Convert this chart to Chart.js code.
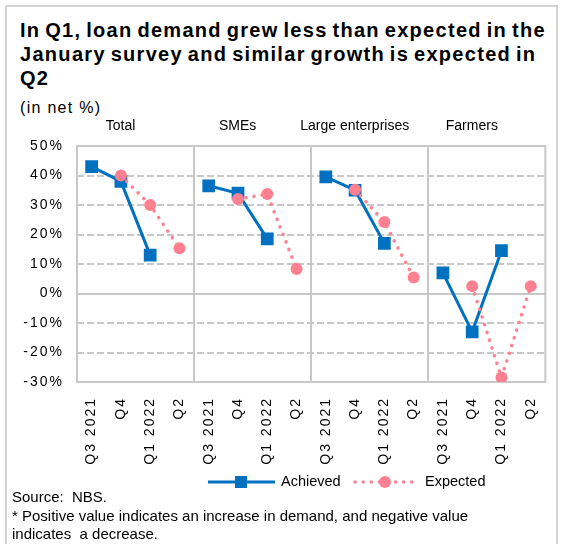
<!DOCTYPE html>
<html>
<head>
<meta charset="utf-8">
<script src="https://cdn.jsdelivr.net/npm/chart.js@4/dist/chart.umd.min.js"></script>
<style>
  body { margin: 0; width: 563px; height: 544px; overflow: hidden; background: #fff;
         font-family: "Liberation Sans", Arial, sans-serif; color: #000; }
  .frame { position: absolute; left: 5px; top: 5px; width: 553px; height: 560px;
           box-sizing: border-box; border: 2px solid #d4d4d4; }
  .title { position: absolute; left: 20px; top: 18px; font-weight: bold; font-size: 20px;
           line-height: 24px; letter-spacing: 1.3px; word-spacing: -2px; white-space: nowrap; }
  .unit { position: absolute; left: 20px; top: 99px; font-size: 16px; line-height: 18px; letter-spacing: 1.3px; }
  #chartBox { position: absolute; left: 0; top: 110px; }
  .notes { position: absolute; left: 12px; top: 488px; font-size: 15px; line-height: 18.5px; white-space: nowrap; }
</style>
</head>
<body>
<div class="frame"></div>
<div class="title">In Q1, loan demand grew less than expected in the<br>January survey and similar growth is expected in<br>Q2</div>
<div class="unit">(in net %)</div>
<canvas id="chartBox" width="563" height="390"></canvas>
<div class="notes">Source:&nbsp; NBS.<br>* Positive value indicates an increase in demand, and negative value<br>indicates&nbsp; a decrease.</div>
<script>
const panels = ['Total', 'SMEs', 'Large enterprises', 'Farmers'];
const quarters = ['Q3 2021', 'Q4', 'Q1 2022', 'Q2'];

// net %, one row per panel
const achieved = [
    [43, 38, 13, null],
    [36.5, 34, 18.5, null],
    [39.5, 35, 17, null],
    [7, -13, 14.5, null]
];
const expected = [
    [null, 40, 30, 15.3],
    [null, 32, 33.7, 8.3],
    [null, 35.2, 24.2, 5.4],
    [null, 2.5, -28.5, 2.5]
];

const yMin = -30;
const yMax = 50;
const yStep = 10;

const blue = '#0070C0';
const pink = '#FF8091';
const gridColor = '#c8c8c8';

Chart.defaults.font.family = '"Liberation Sans", Arial, sans-serif';
Chart.defaults.font.size = 14;
Chart.defaults.color = '#000';

// grid: dashed lines, solid zero line, solid panel dividers and frame
const panelGrid = {
    id: 'panelGrid',
    beforeDraw(chart) {
        // tick labels are drawn slightly spaced out
        chart.ctx.letterSpacing = '2px';
    },
    beforeDatasetsDraw(chart) {
        const { ctx, chartArea: a, scales: { x, y } } = chart;
        ctx.save();
        ctx.strokeStyle = gridColor;
        ctx.lineWidth = 2;
        for (let v = yMin + yStep; v < yMax; v += yStep) {
            const py = Math.round(y.getPixelForValue(v));
            ctx.setLineDash(v === 0 ? [] : [7, 3]);
            ctx.beginPath();
            ctx.moveTo(a.left, py);
            ctx.lineTo(a.right, py);
            ctx.stroke();
        }
        ctx.setLineDash([]);
        for (let k = 1; k < panels.length; k++) {
            const i = k * quarters.length;
            const px = Math.round((x.getPixelForValue(i - 1) + x.getPixelForValue(i)) / 2);
            ctx.beginPath();
            ctx.moveTo(px, a.top);
            ctx.lineTo(px, a.bottom);
            ctx.stroke();
        }
        ctx.strokeRect(a.left, a.top, a.right - a.left, a.bottom - a.top);
        ctx.restore();
    }
};

// panel names above the plot and the legend below the quarter labels
const panelText = {
    id: 'panelText',
    afterDraw(chart) {
        const { ctx, chartArea: a, scales: { x } } = chart;
        ctx.save();
        ctx.letterSpacing = '0px';
        ctx.font = '14px "Liberation Sans", Arial, sans-serif';
        ctx.fillStyle = '#000';
        ctx.textBaseline = 'middle';
        ctx.textAlign = 'center';
        // the names sit a little left of each panel's middle
        panels.forEach((name, k) => {
            const first = k * quarters.length;
            const mid = (x.getPixelForValue(first) + x.getPixelForValue(first + quarters.length - 1)) / 2;
            ctx.fillText(name, mid - 15, a.top - 20);
        });

        const ly = 372;
        ctx.font = '14.5px "Liberation Sans", Arial, sans-serif';
        ctx.textAlign = 'left';
        ctx.strokeStyle = blue;
        ctx.lineWidth = 3;
        ctx.beginPath();
        ctx.moveTo(208, ly);
        ctx.lineTo(275, ly);
        ctx.stroke();
        ctx.fillStyle = blue;
        ctx.fillRect(235, ly - 6, 12, 12);
        ctx.fillStyle = '#000';
        ctx.fillText('Achieved', 281, ly);

        ctx.strokeStyle = pink;
        ctx.lineWidth = 3.5;
        ctx.lineCap = 'round';
        ctx.setLineDash([0.1, 8]);
        ctx.beginPath();
        ctx.moveTo(355, ly);
        ctx.lineTo(412, ly);
        ctx.stroke();
        ctx.setLineDash([]);
        ctx.fillStyle = pink;
        ctx.beginPath();
        ctx.arc(385, ly, 6, 0, Math.PI * 2);
        ctx.fill();
        ctx.fillStyle = '#000';
        ctx.fillText('Expected', 425, ly);
        ctx.restore();
    }
};

const labels = panels.flatMap(() => quarters);

const config = {
    type: 'line',
    data: {
        labels: labels,
        datasets: [{
            label: 'Achieved',
            data: achieved.flat(),
            borderColor: blue,
            borderWidth: 3,
            pointStyle: 'rect',
            pointRadius: 9,
            pointBorderWidth: 0,
            pointBackgroundColor: blue,
            spanGaps: false,
            order: 1
        }, {
            label: 'Expected',
            data: expected.flat(),
            borderColor: pink,
            borderWidth: 3.5,
            borderDash: [0.1, 8],
            borderCapStyle: 'round',
            pointStyle: 'circle',
            pointRadius: 6,
            pointBorderWidth: 0,
            pointBackgroundColor: pink,
            spanGaps: false,
            order: 0
        }]
    },
    options: {
        responsive: false,
        animation: false,
        devicePixelRatio: 1,
        layout: { padding: { top: 36, right: 15, left: 0, bottom: 0 } },
        plugins: {
            legend: { display: false },
            title: { display: false },
            tooltip: { enabled: false }
        },
        scales: {
            x: {
                offset: true,
                grid: { display: false, drawTicks: false },
                border: { display: false },
                ticks: { autoSkip: false, maxRotation: 90, minRotation: 90, padding: 15 },
                afterFit(scale) { scale.height = 118; }
            },
            y: {
                min: yMin,
                max: yMax,
                grid: { display: false, drawTicks: false },
                border: { display: false },
                ticks: { stepSize: yStep, padding: 13, callback: v => v + '%' },
                afterFit(scale) { scale.width = 77; }
            }
        }
    },
    plugins: [panelGrid, panelText]
};

new Chart(document.getElementById('chartBox').getContext('2d'), config);
</script>
</body>
</html>
